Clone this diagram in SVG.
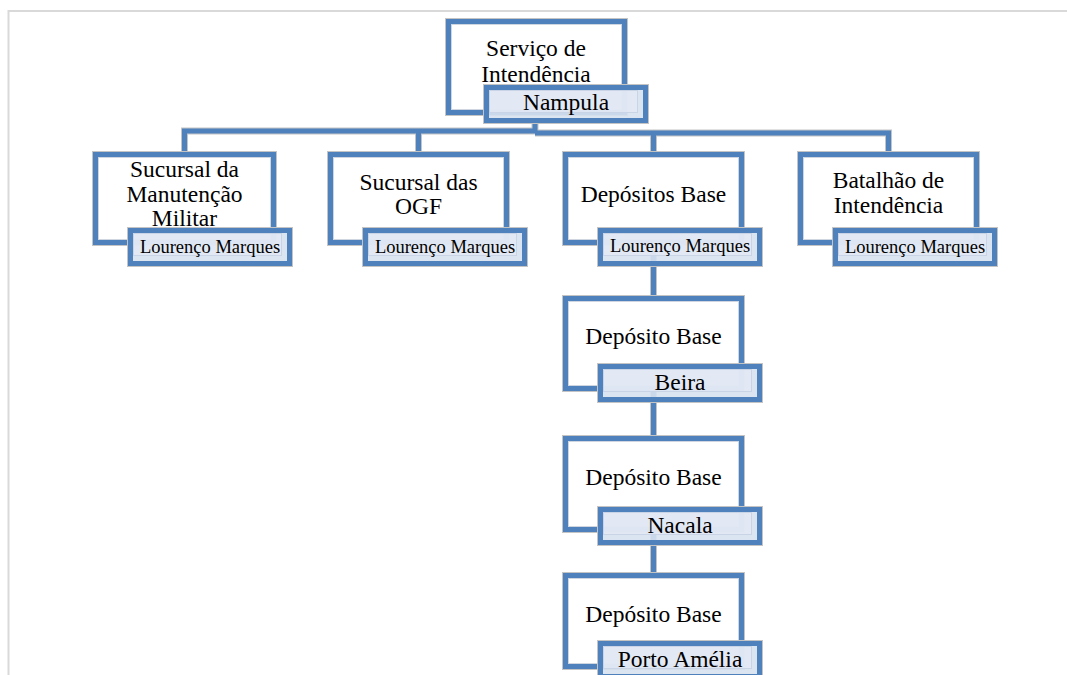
<svg xmlns="http://www.w3.org/2000/svg" width="1067" height="675" viewBox="0 0 1067 675">
<style>
.og{fill:#fff;stroke:#c4c4c4;stroke-width:1}
.bl{fill:none;stroke:#4f81bd;stroke-width:5}
.ig{fill:none;stroke:#cfd6e0;stroke-width:1}
.lf{fill:#d7e1ef;fill-opacity:0.9;stroke:#c4c4c4;stroke-width:1}
.li{fill:#e3eaf5;fill-opacity:0.8;stroke:#c9d4e6;stroke-width:1}
.cg{fill:none;stroke:#c4c4c4;stroke-width:7}
.cb{fill:none;stroke:#4f81bd;stroke-width:5}
.t{font-size:23.5px}
.s{font-size:18.5px}
</style>
<rect x="0" y="0" width="1067" height="675" fill="#fff"/>
<path d="M8.5 675 V11 H1067" fill="none" stroke="#d9d9d9" stroke-width="2"/>

<g id="connectors">
  <path class="cg" d="M535 120 V131 H184.5 V151 M535 131 H418.5 V152 M535 133 H653.5 V152 M535 133 H888.5 V152"/>
  <path class="cb" d="M535 120 V131 H184.5 V151 M535 131 H418.5 V152 M535 133 H653.5 V152 M535 133 H888.5 V152"/>
  <path class="cg" d="M653.5 240 V296 M653.5 380 V436 M653.5 520 V573"/>
  <path class="cb" d="M653.5 240 V296 M653.5 380 V436 M653.5 520 V573"/>
</g>

<g font-family="'Liberation Serif', 'DejaVu Serif', 'Times New Roman', serif" text-anchor="middle" fill="#000">
<g id="n-servico">
  <rect class="og" x="445.5" y="18.5" width="182" height="97"/>
  <rect class="bl" x="448.5" y="21.5" width="176" height="91"/>
  <rect class="ig" x="451.5" y="24.5" width="170" height="85"/>
  <text class="t" x="536" y="56">Serviço de</text>
  <text class="t" x="536" y="82">Intendência</text>
  <rect class="lf" x="483.5" y="84.5" width="165" height="39"/>
  <rect class="bl" x="486.5" y="87.5" width="159" height="33"/>
  <rect class="li" x="489.5" y="90.5" width="148" height="22"/>
  <text class="t" x="566" y="110">Nampula</text>
</g>

<g id="n-manutencao">
  <rect class="og" x="92.5" y="151.5" width="184" height="94"/>
  <rect class="bl" x="95.5" y="154.5" width="178" height="88"/>
  <rect class="ig" x="98.5" y="157.5" width="172" height="82"/>
  <text class="t" x="184.5" y="177">Sucursal da</text>
  <text class="t" x="184.5" y="202">Manutenção</text>
  <text class="t" x="184.5" y="226">Militar</text>
  <rect class="lf" x="127.5" y="227.5" width="165" height="39"/>
  <rect class="bl" x="130.5" y="230.5" width="159" height="33"/>
  <rect class="li" x="133.5" y="233.5" width="148" height="22"/>
  <text class="s" x="210" y="253">Lourenço Marques</text>
</g>

<g id="n-ogf">
  <rect class="og" x="327.5" y="151.5" width="182" height="94"/>
  <rect class="bl" x="330.5" y="154.5" width="176" height="88"/>
  <rect class="ig" x="333.5" y="157.5" width="170" height="82"/>
  <text class="t" x="418.5" y="190">Sucursal das</text>
  <text class="t" x="418.5" y="214">OGF</text>
  <rect class="lf" x="362.5" y="227.5" width="165" height="39"/>
  <rect class="bl" x="365.5" y="230.5" width="159" height="33"/>
  <rect class="li" x="368.5" y="233.5" width="148" height="22"/>
  <text class="s" x="445" y="253">Lourenço Marques</text>
</g>

<g id="n-depositos">
  <rect class="og" x="562.5" y="151.5" width="182" height="94"/>
  <rect class="bl" x="565.5" y="154.5" width="176" height="88"/>
  <rect class="ig" x="568.5" y="157.5" width="170" height="82"/>
  <text class="t" x="653.5" y="202">Depósitos Base</text>
  <rect class="lf" x="597.5" y="227.5" width="165" height="39"/>
  <rect class="bl" x="600.5" y="230.5" width="159" height="33"/>
  <rect class="li" x="603.5" y="233.5" width="148" height="22"/>
  <text class="s" x="680" y="252">Lourenço Marques</text>
</g>

<g id="n-batalhao">
  <rect class="og" x="797.5" y="151.5" width="182" height="94"/>
  <rect class="bl" x="800.5" y="154.5" width="176" height="88"/>
  <rect class="ig" x="803.5" y="157.5" width="170" height="82"/>
  <text class="t" x="888.5" y="188">Batalhão de</text>
  <text class="t" x="888.5" y="213">Intendência</text>
  <rect class="lf" x="832.5" y="227.5" width="165" height="39"/>
  <rect class="bl" x="835.5" y="230.5" width="159" height="33"/>
  <rect class="li" x="838.5" y="233.5" width="148" height="22"/>
  <text class="s" x="915" y="253">Lourenço Marques</text>
</g>

<g id="n-beira">
  <rect class="og" x="562.5" y="295.5" width="182" height="96"/>
  <rect class="bl" x="565.5" y="298.5" width="176" height="90"/>
  <rect class="ig" x="568.5" y="301.5" width="170" height="84"/>
  <text class="t" x="653.5" y="344">Depósito Base</text>
  <rect class="lf" x="597.5" y="363.5" width="165" height="39"/>
  <rect class="bl" x="600.5" y="366.5" width="159" height="33"/>
  <rect class="li" x="603.5" y="369.5" width="148" height="22"/>
  <text class="t" x="680" y="390">Beira</text>
</g>

<g id="n-nacala">
  <rect class="og" x="562.5" y="435.5" width="182" height="97"/>
  <rect class="bl" x="565.5" y="438.5" width="176" height="91"/>
  <rect class="ig" x="568.5" y="441.5" width="170" height="85"/>
  <text class="t" x="653.5" y="485">Depósito Base</text>
  <rect class="lf" x="597.5" y="506.5" width="165" height="39"/>
  <rect class="bl" x="600.5" y="509.5" width="159" height="33"/>
  <rect class="li" x="603.5" y="512.5" width="148" height="22"/>
  <text class="t" x="680" y="533">Nacala</text>
</g>

<g id="n-porto">
  <rect class="og" x="562.5" y="572.5" width="182" height="97"/>
  <rect class="bl" x="565.5" y="575.5" width="176" height="91"/>
  <rect class="ig" x="568.5" y="578.5" width="170" height="85"/>
  <text class="t" x="653.5" y="622">Depósito Base</text>
  <rect class="lf" x="597.5" y="640.5" width="165" height="39"/>
  <rect class="bl" x="600.5" y="643.5" width="159" height="33"/>
  <rect class="li" x="603.5" y="646.5" width="148" height="22"/>
  <text class="t" x="680" y="667">Porto Amélia</text>
</g>
</g>
</svg>
